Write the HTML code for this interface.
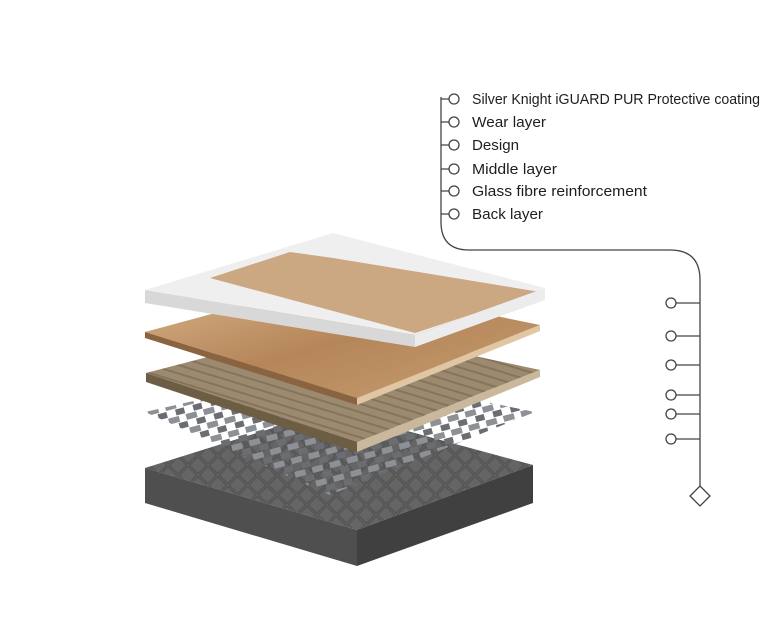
<!DOCTYPE html>
<html><head><meta charset="utf-8"><style>
html,body{margin:0;padding:0;background:#fff;width:768px;height:644px;overflow:hidden}
svg{display:block}
text{font-family:"Liberation Sans",sans-serif;font-size:15px;fill:#1e1e1e}
</style></head><body>
<svg width="768" height="644" viewBox="0 0 768 644">
<defs>
<pattern id="mesh" width="18" height="14" patternUnits="userSpaceOnUse" patternTransform="rotate(-15)">
<rect x="0" y="0" width="11" height="6" fill="#8d9095"/>
<rect x="9" y="7" width="11" height="6" fill="#6a6d72"/>
</pattern>
<pattern id="dia" width="14" height="14" patternUnits="userSpaceOnUse" patternTransform="rotate(45)">
<rect width="14" height="14" fill="#656565"/>
<rect x="1" y="1" width="12" height="12" fill="none" stroke="#525252" stroke-width="1.2"/>
</pattern>
<pattern id="stripe" width="8" height="8" patternUnits="userSpaceOnUse" patternTransform="rotate(17)">
<rect width="8" height="8" fill="#9c8a70"/>
<rect width="8" height="2" fill="#857459"/>
</pattern>
<linearGradient id="wood" x1="0" y1="0" x2="1" y2="1">
<stop offset="0" stop-color="#d8b38a"/><stop offset="0.5" stop-color="#b58659"/><stop offset="1" stop-color="#c79e72"/>
</linearGradient>
</defs>
<polygon points="145,468 330,410 533,465 357,530" fill="url(#dia)"/>
<polygon points="145,468 357,530 357,566 145,503" fill="#4f4f4f"/>
<polygon points="357,530 533,465 533,503 357,566" fill="#404040"/>
<polygon points="145,412 330,370 535,412 330,495" fill="url(#mesh)"/>
<polygon points="146,373 330,325 540,370 357,442" fill="url(#stripe)"/>
<polygon points="146,373 357,442 357,452 146,382" fill="#6e5d45"/>
<polygon points="357,442 540,370 540,377 357,452" fill="#c9b89b"/>
<polygon points="145,332 330,282 540,325 357,398" fill="url(#wood)"/>
<polygon points="145,332 357,398 357,405 145,338" fill="#8a6440"/>
<polygon points="357,398 540,325 540,331 357,405" fill="#e0c6a2"/>
<polygon points="145,290 333,233 545,288 415,335" fill="#efefef"/>
<polygon points="210,278 290,252 333,258 540,292 415,333" fill="#c49a6e" opacity="0.85"/>
<polygon points="145,290 415,335 415,347 145,303" fill="#d8d8d8"/>
<polygon points="415,335 545,288 545,300 415,347" fill="#ececec"/>
<g fill="none" stroke="#444" stroke-width="1.3">
<path d="M441,97 V222 Q441,250 469,250 H670 Q700,250 700,280 V487"/>
<path d="M441,99 H449 M441,122 H449 M441,145 H449 M441,169 H449 M441,191 H449 M441,214 H449"/>
<path d="M676,303 H700 M676,336 H700 M676,365 H700 M676,395 H700 M676,414 H700 M676,439 H700"/>
<polygon points="700,486 710,496 700,506 690,496" fill="#fff"/>
</g>
<g fill="#fff" stroke="#444" stroke-width="1.3">
<circle cx="454" cy="99" r="5"/><circle cx="454" cy="122" r="5"/><circle cx="454" cy="145" r="5"/>
<circle cx="454" cy="169" r="5"/><circle cx="454" cy="191" r="5"/><circle cx="454" cy="214" r="5"/>
<circle cx="671" cy="303" r="5"/><circle cx="671" cy="336" r="5"/><circle cx="671" cy="365" r="5"/>
<circle cx="671" cy="395" r="5"/><circle cx="671" cy="414" r="5"/><circle cx="671" cy="439" r="5"/>
</g>
<text x="472" y="104" textLength="288" lengthAdjust="spacingAndGlyphs">Silver Knight iGUARD PUR Protective coating</text>
<text x="472" y="127" textLength="74" lengthAdjust="spacingAndGlyphs">Wear layer</text>
<text x="472" y="150" textLength="47" lengthAdjust="spacingAndGlyphs">Design</text>
<text x="472" y="174" textLength="85" lengthAdjust="spacingAndGlyphs">Middle layer</text>
<text x="472" y="196" textLength="175" lengthAdjust="spacingAndGlyphs">Glass fibre reinforcement</text>
<text x="472" y="219" textLength="71" lengthAdjust="spacingAndGlyphs">Back layer</text>
</svg>
</body></html>
